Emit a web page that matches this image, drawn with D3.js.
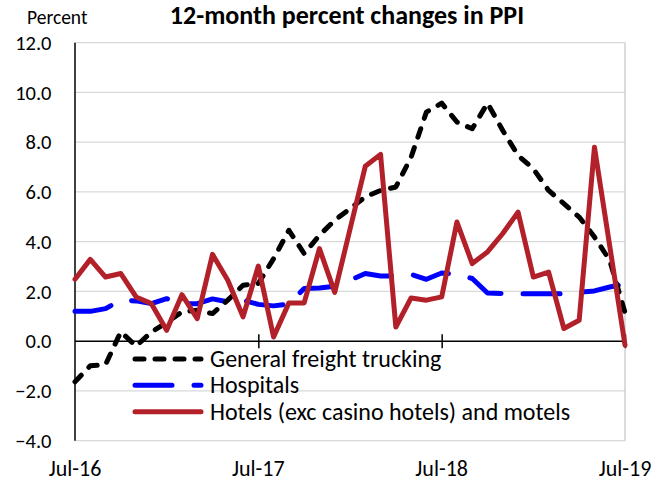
<!DOCTYPE html>
<html>
<head>
<meta charset="utf-8">
<script src="https://cdn.jsdelivr.net/npm/d3@7"></script>
<style>
  html, body { margin: 0; padding: 0; background: #ffffff; }
  svg { display: block; font-family: Carlito, Lato, "Open Sans", sans-serif; }
</style>
</head>
<body>
<svg id="chart" width="669" height="480"></svg>
<script>
// ---- data ----
const months = [
  "Jul-16","Aug-16","Sep-16","Oct-16","Nov-16","Dec-16","Jan-17","Feb-17","Mar-17","Apr-17","May-17","Jun-17",
  "Jul-17","Aug-17","Sep-17","Oct-17","Nov-17","Dec-17","Jan-18","Feb-18","Mar-18","Apr-18","May-18","Jun-18",
  "Jul-18","Aug-18","Sep-18","Oct-18","Nov-18","Dec-18","Jan-19","Feb-19","Mar-19","Apr-19","May-19","Jun-19",
  "Jul-19"
];
const xTickLabels = ["Jul-16", "Jul-17", "Jul-18", "Jul-19"];
const yTicks = [-4, -2, 0, 2, 4, 6, 8, 10, 12];

const trucking = [-1.63, -0.99, -0.94, 0.38, -0.2, 0.37, 0.75, 1.18, 1.24, 1.11, 1.65, 2.25,
  2.32, 3.32, 4.46, 3.52, 4.26, 4.86, 5.33, 5.8, 6.06, 6.2, 7.4, 9.21,
  9.57, 8.81, 8.54, 9.57, 8.47, 7.47, 6.93, 6.06, 5.53, 4.99, 4.19, 3.25, 1.15];
const hospitals = [1.2, 1.2, 1.31, 1.65, 1.62, 1.51, 1.71, 1.51, 1.51, 1.7, 1.58, 1.65,
  1.48, 1.42, 1.5, 2.12, 2.14, 2.21, 2.45, 2.72, 2.62, 2.62, 2.69, 2.49,
  2.74, 2.7, 2.52, 1.94, 1.92, 1.91, 1.91, 1.91, 1.91, 1.97, 2.02, 2.18, 2.3];
const hotels = [2.49, 3.29, 2.58, 2.72, 1.78, 1.51, 0.44, 1.87, 0.91, 3.49, 2.45, 0.98,
  3.02, 0.17, 1.54, 1.54, 3.72, 1.96, 4.5, 7.03, 7.51, 0.57, 1.74, 1.65,
  1.78, 4.79, 3.12, 3.59, 4.33, 5.19, 2.58, 2.78, 0.51, 0.84, 7.8, 3.83, -0.16];

const seriesNames = ["General freight trucking", "Hospitals", "Hotels (exc casino hotels) and motels"];
const title = "12-month percent changes in PPI";
const yUnit = "Percent";

// ---- layout ----
const svg = d3.select("#chart");
const pLeft = 75, pRight = 625, pTop = 42.7, pBottom = 440.7;

const x = d3.scalePoint().domain(months).range([pLeft, pRight]);
const y = d3.scaleLinear().domain([-4, 12]).range([pBottom, pTop]);

// gridlines
svg.append("g").selectAll("line").data(yTicks.filter(v => v !== 0)).join("line")
  .attr("x1", pLeft).attr("x2", pRight)
  .attr("y1", d => y(d)).attr("y2", d => y(d))
  .attr("stroke", "#d9d9d9").attr("stroke-width", 1.3);

// right border
svg.append("line").attr("x1", pRight).attr("x2", pRight).attr("y1", pTop).attr("y2", pBottom)
  .attr("stroke", "#c8c8c8").attr("stroke-width", 1.3);

// y axis (labels only, via d3 axis)
const yAxis = svg.append("g").attr("transform", `translate(${pLeft},0)`)
  .call(d3.axisLeft(y).tickValues(yTicks).tickFormat(d3.format(".1f")).tickSize(0).tickPadding(23.5));
yAxis.select(".domain").remove();
yAxis.selectAll("text").attr("font-size", 20.5).attr("fill", "#000").attr("font-family", "Carlito, Lato, sans-serif");

// left axis line
svg.append("line").attr("x1", pLeft).attr("x2", pLeft).attr("y1", pTop).attr("y2", pBottom)
  .attr("stroke", "#000").attr("stroke-width", 1.5);

// zero line with ticks (d3 axis)
const xAxis = svg.append("g").attr("transform", `translate(0,${y(0)})`)
  .call(d3.axisBottom(x).tickValues(xTickLabels.slice(1)).tickSize(7).tickFormat(""));
xAxis.select(".domain").attr("stroke", "#000").attr("stroke-width", 1.5).attr("d", `M${pLeft},0H${pRight}`);
xAxis.selectAll(".tick line").attr("y1", -7).attr("y2", 7).attr("stroke", "#000").attr("stroke-width", 1.5);

// x labels at bottom
svg.append("g").selectAll("text").data(xTickLabels).join("text")
  .attr("x", d => x(d)).attr("y", 475.5)
  .attr("text-anchor", "middle").attr("font-size", 22).text(d => d);

// lines
const line = d3.line().x((d, i) => x(months[i])).y(d => y(d));
const styles = [
  { data: trucking, color: "#000000", width: 5, dash: "9,11", cap: "round" },
  { data: hospitals, color: "#0000ff", width: 5, dash: "37,22", cap: "round" },
  { data: hotels, color: "#b2202a", width: 5, dash: null, cap: "round" }
];
// draw order: hospitals, trucking, hotels
[1, 0, 2].forEach(k => {
  const s = styles[k];
  svg.append("path").datum(s.data)
    .attr("d", line)
    .attr("fill", "none")
    .attr("stroke", s.color)
    .attr("stroke-width", s.width)
    .attr("stroke-linejoin", "round")
    .attr("stroke-linecap", s.cap)
    .attr("stroke-dasharray", s.dash);
});

// legend
const legend = svg.append("g");
const legY = [359, 385.3, 411.7];
seriesNames.forEach((name, k) => {
  const s = styles[k];
  legend.append("line")
    .attr("x1", 135).attr("x2", 201).attr("y1", legY[k]).attr("y2", legY[k])
    .attr("stroke", s.color).attr("stroke-width", s.width)
    .attr("stroke-linecap", s.cap).attr("stroke-dasharray", s.dash);
  legend.append("text")
    .attr("x", 210).attr("y", legY[k] + 8)
    .attr("font-size", 24).text(name);
});

// title & unit
svg.append("text").attr("x", 347).attr("y", 23.5).attr("text-anchor", "middle")
  .attr("font-size", 26).attr("font-weight", "bold").text(title);
svg.append("text").attr("x", 27).attr("y", 24).attr("font-size", 19.5).text(yUnit);
</script>
</body>
</html>
